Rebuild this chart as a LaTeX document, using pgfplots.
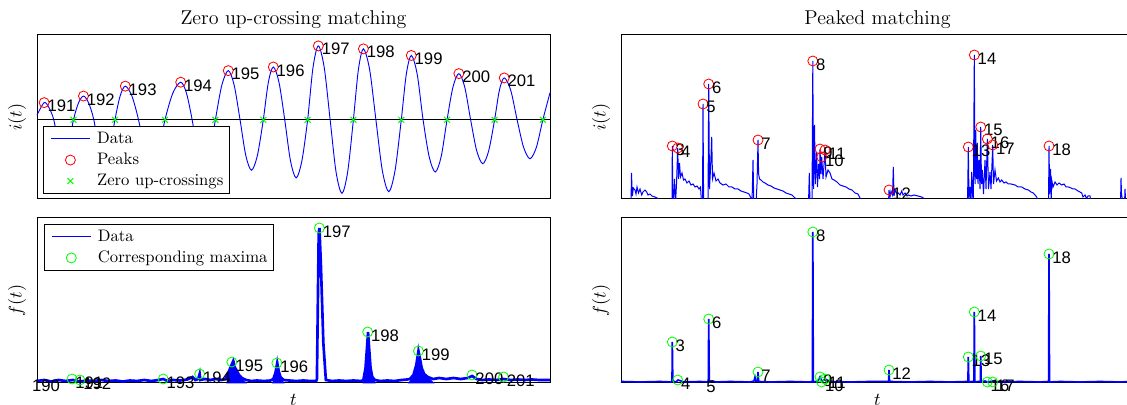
\documentclass[border=0pt]{standalone}
\usepackage{fontspec}
\newfontfamily\arial{Liberation Sans}
\usepackage{pgfplots}
\pgfplotsset{compat=1.18}
\definecolor{mblue}{RGB}{0,0,255}
\definecolor{mred}{RGB}{255,0,0}
\definecolor{mgreen}{RGB}{0,255,0}
\pgfplotsset{
  base/.style={scale only axis, width=307.8pt, anchor=south west,
    xtick=\empty, ytick=\empty,
    axis line style={black, line width=0.6pt},
    ylabel style={at={(axis description cs:-0.039,0.5)}, anchor=center, font=\fontsize{11}{13}\selectfont},
    xlabel style={at={(axis description cs:0.5,-0.103)}, anchor=center, font=\fontsize{11}{13}\selectfont},
    title style={at={(axis description cs:0.5,1.091)}, anchor=center, yshift=-6pt, font=\fontsize{12}{14}\selectfont}},
  leg/.style={legend cell align=left,
    legend style={font=\fontsize{10}{12}\selectfont, draw=black, line width=0.5pt, fill=white,
      inner xsep=1.8pt, inner ysep=1.2pt, column sep=0pt,
      nodes={inner sep=1.8pt, text height=7pt, text depth=2pt}},
    legend image code/.code={\path (0pt,0pt) (28pt,0pt);
      \draw[mark repeat=2,mark phase=2,##1] plot coordinates {(2.4pt,0pt) (14.1pt,0pt) (25.8pt,0pt)};}},
  bluelegline/.style={legend image code/.code={\path (0pt,0pt) (28pt,0pt);
      \draw[draw=mblue, line width=0.8pt] (2.4pt,0.3pt) -- (25.8pt,0.3pt);}},
  lab/.style={nodes near coords, point meta=explicit symbolic,
    every node near coord/.append style={anchor=west, text=black, opacity=1, font=\arial\fontsize{10}{12}\selectfont, inner sep=0pt, xshift=1.8pt, yshift=-2pt}},
  hidemark/.style={only marks, mark=o, mark options={opacity=0, draw opacity=0, fill opacity=0}}
}
\begin{document}
\begin{tikzpicture}
\useasboundingbox (0,0) rectangle (676.2pt,243pt);
\clip (0,0) rectangle (676.2pt,243pt);

% ---------------- top left ----------------
\begin{axis}[base, at={(22.2pt,123.6pt)}, height=98.4pt,
  xmin=105, xmax=1540, ymin=-240, ymax=257, clip=false,
  title={Zero up-crossing matching}, ylabel={$i(t)$}, leg,
  legend style={at={(axis description cs:0.0117,0.0305)}, anchor=south west}]
\addlegendimage{bluelegline}
\addlegendentry{Data}
\addplot[mblue, line width=0.55pt, smooth, forget plot] coordinates {
(105,14) (125,52) (138.5,37) (152,0) (166,-78) (180,-110) (193.5,-78) (207,0)
(221,51) (235,72) (249.5,51) (264,0) (279,-92) (294,-130) (308.5,-92) (323,0)
(337.5,72) (352,102) (370.5,72) (389,0) (407.5,-99) (426,-140) (444.5,-99) (463,0)
(485,81) (507,114) (523,81) (539,0) (555.5,-106) (572,-150) (588,-106) (604,0)
(622,105) (640,149) (656.5,105) (673,0) (689,-108) (705,-153) (721.5,-108) (738,0)
(752,113) (766,160) (782,113) (798,0) (814,-124) (830,-176) (846,-124) (862,0)
(877,158) (892,224) (908.5,158) (925,0) (941.5,-158) (958,-223) (974,-158) (990,0)
(1004,152) (1018,215) (1035.5,152) (1053,0) (1071,-154) (1089,-218) (1106.5,-154) (1124,0)
(1138,138) (1152,195) (1168.5,138) (1185,0) (1202,-112) (1219,-158) (1235.5,-112) (1252,0)
(1268.5,99) (1285,140) (1301.5,99) (1318,0) (1335,-94) (1352,-133) (1368.5,-94) (1385,0)
(1398.5,90) (1412,127) (1430,90) (1448,0) (1466,-83) (1484,-118) (1502,-83) (1520,0)
(1540,82)};
\addplot[black, line width=0.5pt, forget plot] coordinates {(105,0) (1540,0)};
\addplot[only marks, mark=o, mred, mark size=3pt, line width=0.5pt, lab] table[meta=lab, row sep=\\] {
x y lab \\
125 52 191 \\ 235 72 192 \\ 352 102 193 \\ 507 114 194 \\ 640 149 195 \\ 766 160 196 \\
892 224 197 \\ 1018 215 198 \\ 1152 195 199 \\ 1285 140 200 \\ 1412 127 201 \\
};
\addlegendentry{Peaks}
\addplot[only marks, mark=x, mgreen, mark size=2.5pt, line width=0.6pt] coordinates {
(207,0) (323,0) (463,0) (604,0) (738,0) (862,0) (990,0) (1124,0) (1252,0) (1385,0) (1520,0)};
\addlegendentry{Zero up-crossings}
\end{axis}

% ---------------- bottom left ----------------
\begin{axis}[base, at={(22.2pt,13.2pt)}, height=99pt,
  xmin=105, xmax=1540, ymin=0, ymax=165, clip=false,
  ylabel={$f(t)$}, xlabel={$t$}, leg,
  legend style={at={(axis description cs:0.0136,0.9636)}, anchor=north west}]
\addlegendimage{bluelegline}
\addlegendentry{Data}
\addplot[mblue, line width=1.6pt, forget plot] coordinates {
(105,2) (125,3) (145,1.5) (165,3) (185,2) (205,3) (225,1.5) (245,2.5) (265,2) (285,3) (305,2)
(325,2.5) (345,1.5) (365,2.5) (385,2) (405,3) (425,2) (445,3) (458,4) (470,2) (485,3) (505,2.5)
(525,3.5) (535,5) (540,6) (548,3) (556,4) (560,9) (562,3) (575,4) (590,3) (605,4) (620,3) (632,4)
(640,10) (648,17) (654,22) (658,16) (664,12) (670,8) (678,5) (690,3) (705,2) (720,2.5) (740,2)
(758,2.5) (766,4) (772,10) (777,20) (781,12) (786,6) (795,3) (810,2.5) (830,2) (850,2.5) (870,2)
(886,2) (888,4) (893,150) (895,155) (899,120) (906,40) (913,3) (930,2) (950,2.5) (970,2) (990,2.5)
(1012,2) (1018,3) (1024,15) (1029,40) (1031,51) (1034,35) (1038,15) (1043,6) (1050,3) (1065,2)
(1085,2.5) (1105,2) (1125,3) (1140,3.5) (1148,4) (1158,8) (1166,18) (1172,32) (1176,25) (1181,15)
(1188,9) (1198,6) (1213,4) (1230,5) (1250,4) (1270,5) (1290,4) (1310,5) (1322,7) (1335,4) (1350,3)
(1370,3.5) (1390,3) (1410,4) (1430,3) (1450,3.5) (1470,3) (1490,3.5) (1510,3) (1540,3)};
\addplot[mblue, fill=mblue, line width=0.4pt, forget plot] coordinates {
(636,0) (640,9) (648,16) (654,21) (658,15) (664,11) (670,7) (678,4) (690,0)} \closedcycle;
\addplot[mblue, fill=mblue, line width=0.4pt, forget plot] coordinates {
(764,0) (772,9) (777,19) (781,11) (786,5) (796,0)} \closedcycle;
\addplot[mblue, fill=mblue, line width=0.4pt, forget plot] coordinates {
(1017,0) (1024,14) (1031,48) (1034,33) (1038,14) (1044,5) (1051,0)} \closedcycle;
\addplot[mblue, fill=mblue, line width=0.4pt, forget plot] coordinates {
(1145,0) (1158,7) (1166,17) (1172,30) (1176,24) (1181,14) (1188,8) (1200,5) (1215,0)} \closedcycle;
\addplot[only marks, mark=o, mgreen, mark size=3pt, line width=0.5pt, lab] table[meta=lab, row sep=\\] {
x y lab \\
203 4 191 \\ 225 3 192 \\ 458 4 193 \\ 560 9 194 \\ 650 21 195 \\ 776 20 196 \\
895 155 197 \\ 1030 51 198 \\ 1172 32 199 \\ 1322 8 200 \\ 1410 6 201 \\
};
\addlegendentry{Corresponding maxima}
\addplot[hidemark, forget plot, lab] table[meta=lab, row sep=\\] {
x y lab \\ 82 1 190 \\
};
\end{axis}

% ---------------- top right ----------------
\begin{axis}[base, at={(372.6pt,123.6pt)}, height=98.4pt,
  xmin=621, xmax=1134, ymin=0, ymax=164,
  title={Peaked matching}, ylabel={$i(t)$}]
\addplot[mblue, line width=0.6pt] coordinates {
(621,-4) (631,-4) (631.5,26) (632.3,3) (633.3,11) (635,9) (636,5) (637,12) (638.5,6) (640,10)
(641.7,4) (643,7) (645,9) (646.7,7) (648,4) (650,5) (652,3) (655,2) (658,0.5) (660,-4) (671,-4)
(672,0) (672.3,53) (672.8,0) (673.5,0) (674.5,20) (675.5,-4) (676.5,15) (677.7,51) (678.5,20)
(679.5,36) (680.5,22) (682,26) (683.5,19) (685,20) (687,16) (689,18) (691,14) (693,15) (695,12)
(697,13) (699,10) (700.5,12) (701.5,-4) (702.5,-4) (703,95) (703.6,-4) (708,-4) (708.7,115)
(709.5,10) (710.5,30) (711.7,62) (712.5,20) (714,26) (716,18) (718,20) (720,16) (723,14) (726,15)
(729,12) (732,12) (735,10) (738,10) (741,8) (744,7) (747,6) (749,5) (751,1) (752,-4) (753,39)
(753.8,-4) (756,-4) (757,15) (758,59) (758.6,25) (759.5,20) (761,19) (763,17) (765,16) (768,14)
(771,13) (774,11) (777,10) (780,9) (783,8) (786,6) (789,5) (792,4) (795,1) (797,0) (798,-4)
(808.5,-4) (809.3,26) (810,-4) (812,-4) (812.8,138) (813.5,10) (814.5,74) (815.3,15) (816.5,46)
(817.5,12) (818.5,35) (819.5,20) (820,50) (821,25) (821.7,42) (823,20) (825,49) (826,22) (828,29)
(830,26) (832,20) (834,19) (837,17) (840,14) (843,13) (846,12) (849,10) (852,9) (855,6) (858,5)
(860,1) (862,-4) (888.5,-4) (889,9) (890,2) (891,8) (892.5,4) (893.3,32) (894,3) (895,9) (897,5)
(898.3,6) (900,4) (901.7,8) (903,4) (905,6) (907,3) (908.3,4) (911,3) (914,4) (918,3) (921.7,2)
(923.3,1) (925,-4) (967.5,-4) (968.3,52) (969,0) (970,12) (971,-4) (971.7,27) (972.5,5) (973.3,-4)
(974.3,144) (975,15) (975.7,69) (976.5,20) (977.3,56) (978,15) (979,39) (980,10) (980.7,72)
(981.5,15) (982.3,29) (983.5,5) (985,39) (986,10) (987.3,60) (988.5,10) (990,27) (991,10)
(992.7,54) (993.5,15) (995,29) (996.5,18) (998.3,21) (1000,17) (1001.7,19) (1004,16) (1006,17)
(1008.3,15) (1011,15) (1015,14) (1018,12) (1021.7,12) (1025,10) (1028.3,9) (1031,7) (1033.3,6)
(1035,4) (1036.7,2) (1038.3,-4) (1048.5,-4) (1049,53) (1049.6,5) (1050.5,30) (1051.2,-4)
(1051.7,19) (1053,12) (1055,17) (1057,14) (1059,16) (1061.7,14) (1064,15) (1066,12) (1068.3,12)
(1071,11) (1073,10) (1075,10) (1078,8) (1081.7,6) (1083,2) (1085,4) (1086.5,0.5) (1088,3)
(1090,3) (1091,-4) (1120.5,-4) (1121,21) (1121.5,5) (1123,-4) (1124.5,-4) (1125,10) (1125.7,-4)
(1134,-4)};
\addplot[only marks, mark=o, mred, mark size=3pt, line width=0.5pt, lab] table[meta=lab, row sep=\\] {
x y lab \\
672.3 53 3 \\ 677.7 51 4 \\ 703 95 5 \\ 708.7 115 6 \\ 758 59 7 \\ 812.8 138 8 \\
820 50 9 \\ 821.7 42 10 \\ 825 49 11 \\ 889 9 12 \\ 968.3 52 13 \\ 974.3 144 14 \\
980.7 72 15 \\ 987.3 60 16 \\ 992.7 54 17 \\ 1049 53 18 \\
};
\end{axis}

% ---------------- bottom right ----------------
\begin{axis}[base, at={(372.6pt,13.2pt)}, height=99pt,
  xmin=621, xmax=1134, ymin=0, ymax=165, clip=false,
  ylabel={$f(t)$}, xlabel={$t$}]
\addplot[mblue, line width=1pt] coordinates {
(621,1.5) (640,1) (660,1.5) (671.5,1) (672,2) (672.3,41) (672.8,2) (676,1) (678,3) (684,1)
(700,1.5) (708.3,1) (708.7,64) (709.3,1) (712,2) (716,1) (730,1.5) (750,1) (754,2) (755,6)
(756,1.5) (757.6,2) (758,11) (758.6,1.5) (770,1) (790,1.5) (810,1) (812.4,1.5) (812.8,151)
(813.3,1) (818,2) (820,6) (822,1.5) (825,4) (830,1.5) (850,1) (870,1.5) (888.6,1.5) (889,13)
(889.5,1.5) (910,1) (930,1.5) (950,1) (967.9,1.5) (968.3,26) (968.8,1) (972,1.5) (973.9,1.5)
(974.3,71) (974.8,1) (978,1.5) (980.3,1.5) (980.7,27) (981.2,1) (985,2) (987.3,1) (992.7,2)
(1000,1) (1020,1.5) (1040,1) (1048.6,1.5) (1049,129) (1049.5,1) (1060,1.5) (1080,1) (1100,1.5)
(1120,1) (1134,1.5)};
\addplot[only marks, mark=o, mgreen, mark size=3pt, line width=0.5pt, lab] table[meta=lab, row sep=\\] {
x y lab \\
672.3 41 3 \\ 677.7 3 4 \\ 708.7 64 6 \\ 758 11 7 \\ 812.8 151 8 \\ 820 6 9 \\ 821.7 1 10 \\
825 4 11 \\ 889 13 12 \\ 968.3 26 13 \\ 974.3 71 14 \\ 980.7 27 15 \\ 987.3 1 16 \\ 992.7 1 17 \\
1049 129 18 \\
};
\addplot[hidemark, lab] table[meta=lab, row sep=\\] {
x y lab \\ 703 -0.5 5 \\
};
\end{axis}
\end{tikzpicture}
\end{document}
